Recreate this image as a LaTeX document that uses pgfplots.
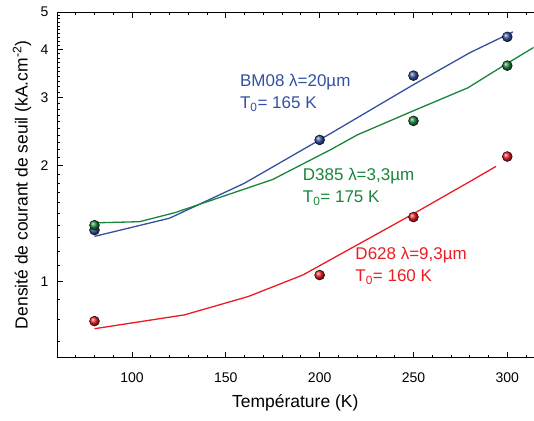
\documentclass[border=0pt]{standalone}
\usepackage{fontspec}
\setmainfont{Liberation Sans}
\usepackage{pgfplots}
\pgfplotsset{compat=1.18}
\definecolor{cblue}{RGB}{52,80,162}
\definecolor{cgreen}{RGB}{24,134,58}
\definecolor{cred}{RGB}{236,28,36}
\begin{document}
\begin{tikzpicture}
\path (-57pt,-63pt) rectangle (477pt,358pt);
\begin{axis}[
  at={(0,0)}, anchor=south west,
  width=477pt, height=346pt, scale only axis,
  xmin=60, xmax=314,
  ymode=log, ymin=0.635, ymax=5,
  axis x line=box, axis y line=left,
  y axis line style={-},
  xtick={100,150,...,300},
  minor xtick={60,70,...,310},
  ytick={1,2,3,4,5},
  yticklabels={1,2,3,4,5},
  minor ytick={0.7,0.8,0.9,1.1,1.2,1.3,1.4,1.5,1.6,1.7,1.8,1.9,2.1,2.2,2.3,2.4,2.5,2.6,2.7,2.8,2.9,3.1,3.2,3.3,3.4,3.5,3.6,3.7,3.8,3.9,4.1,4.2,4.3,4.4,4.5,4.6,4.7,4.8,4.9},
  tick align=inside,
  major tick length=6pt, minor tick length=3pt,
  tick style={black, line width=0.8pt},
  axis line style={line width=0.9pt},
  /pgf/number format/assume math mode=true,
  tick label style={font=\fontsize{14}{16}\selectfont},
  xticklabel style={yshift=-12pt},
  yticklabel style={xshift=-5pt},
  label style={font=\fontsize{17.5}{20}\selectfont},
  xlabel={Température (K)},
  ylabel={Densité de courant de seuil (kA.cm\textsuperscript{-2})},
  xlabel style={at={(axis description cs:0.5,-0.130)}, anchor=center},
  ylabel style={at={(axis description cs:-0.0734,0.5)}, anchor=center},
  clip=true,
]
% lines
\addplot[cblue, line width=1.3pt] coordinates {(80,1.31) (120,1.46) (160,1.80) (200,2.33) (250,3.24) (280,3.92) (303,4.44)};
\addplot[cgreen, line width=1.3pt] coordinates {(80,1.42) (104,1.43) (123,1.51) (175,1.84) (206,2.20) (220,2.40) (249,2.76) (279,3.18) (298,3.63) (316,4.10)};
\addplot[cred, line width=1.3pt] coordinates {(80,0.755) (128,0.82) (162,0.915) (191,1.04) (249,1.49) (282,1.84) (294,1.99)};
% points
\addplot[only marks, mark=ball, mark size=5pt, ball color=cblue] coordinates {(80,1.36) (200,2.33) (250,3.42) (300,4.31)};
\addplot[only marks, mark=ball, mark size=5pt, ball color=cgreen] coordinates {(80,1.40) (250,2.61) (300,3.63)};
\addplot[only marks, mark=ball, mark size=5pt, ball color=cred] coordinates {(80,0.79) (200,1.04) (250,1.47) (300,2.11)};
% labels
\node[anchor=west, inner sep=0pt, align=left, text=cblue, font=\fontsize{17}{22}\selectfont] at (axis cs:157.5,3.08) {BM08 λ=20µm\\T\textsubscript{0}= 165 K};
\node[anchor=west, inner sep=0pt, align=left, text=cgreen, font=\fontsize{17}{22}\selectfont] at (axis cs:191,1.76) {D385 λ=3,3µm\\T\textsubscript{0}= 175 K};
\node[anchor=west, inner sep=0pt, align=left, text=cred, font=\fontsize{17}{22}\selectfont] at (axis cs:219,1.097) {D628 λ=9,3µm\\T\textsubscript{0}= 160 K};
\end{axis}
\end{tikzpicture}
\end{document}
